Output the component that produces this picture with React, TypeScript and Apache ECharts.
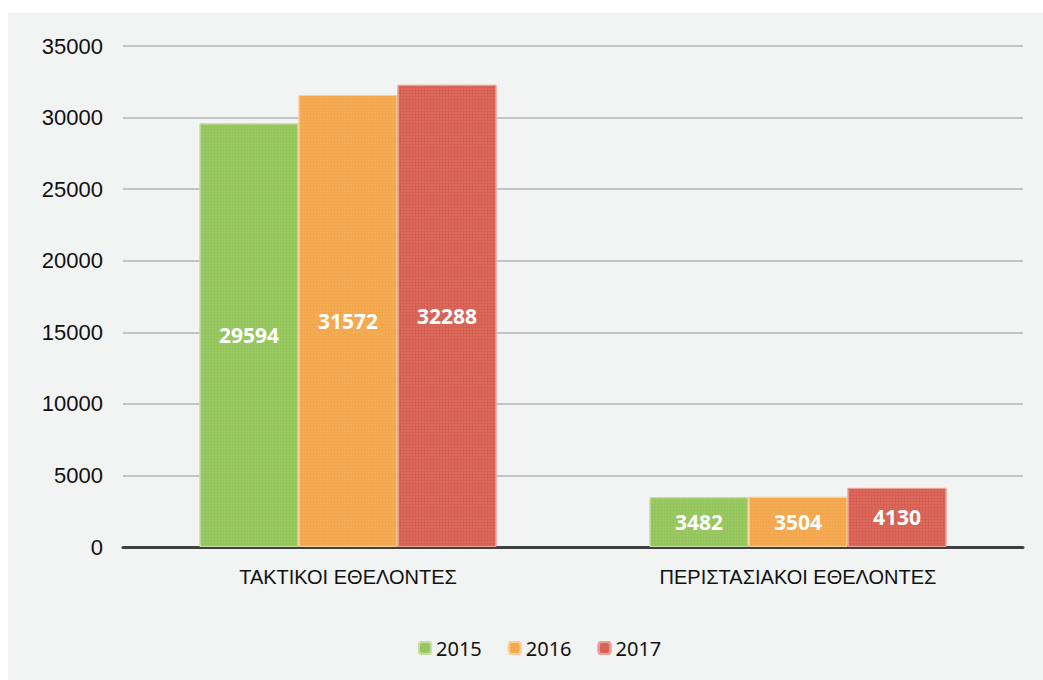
import React, { useEffect, useRef } from "react";
import * as echarts from "echarts";

const categories = ["ΤΑΚΤΙΚΟΙ ΕΘΕΛΟΝΤΕΣ", "ΠΕΡΙΣΤΑΣΙΑΚΟΙ ΕΘΕΛΟΝΤΕΣ"];
const seriesNames = ["2015", "2016", "2017"];
const values2015 = [29594, 3482];
const values2016 = [31572, 3504];
const values2017 = [32288, 4130];
const colors = ["#94c55a", "#f3a64a", "#d65f51"];
const borders = ["#c3e09c", "#f9cf99", "#eba198"];

export default function App() {
  const ref = useRef<HTMLDivElement>(null);
  useEffect(() => {
    if (!ref.current) return;
    const chart = echarts.init(ref.current, null, { renderer: "svg" });
    const data = [values2015, values2016, values2017];
    const decal = {
      symbol: "rect",
      symbolSize: 0.6,
      dashArrayX: [2, 1],
      dashArrayY: [2, 1],
      color: "rgba(255,255,255,0.22)",
    };
    chart.setOption({
      animation: false,
      backgroundColor: "#f2f3f3",
      grid: { left: 115, right: 20, top: 33, bottom: 133, containLabel: false },
      legend: {
        left: 405,
        top: 620,
        itemWidth: 12,
        itemHeight: 12,
        itemGap: 26,
        textStyle: { fontFamily: "Noto Sans", fontSize: 20, color: "#111" },
        data: seriesNames,
      },
      xAxis: {
        type: "category",
        data: categories,
        axisLine: { lineStyle: { color: "#404040", width: 3 } },
        axisTick: { show: false },
        axisLabel: {
          fontFamily: "Liberation Sans",
          fontSize: 20,
          color: "#111",
          margin: 20,
        },
      },
      yAxis: {
        type: "value",
        min: 0,
        max: 35000,
        interval: 5000,
        axisLine: { show: false },
        axisTick: { show: false },
        axisLabel: {
          fontFamily: "Liberation Sans",
          fontSize: 22,
          color: "#111",
          margin: 20,
          formatter: (v: number) => String(v),
        },
        splitLine: { lineStyle: { color: "#b5b5b5", width: 1.5 } },
      },
      series: seriesNames.map((name, i) => ({
        name,
        type: "bar",
        data: data[i],
        barWidth: 99,
        barGap: "0%",
        itemStyle: {
          color: colors[i],
          borderColor: borders[i],
          borderWidth: 1,
          decal,
        },
        label: {
          show: true,
          position: "inside",
          color: "#fff",
          fontFamily: "Open Sans",
          fontWeight: "bold",
          fontSize: 21,
        },
      })),
    });
    return () => chart.dispose();
  }, []);
  return (
    <div
      ref={ref}
      style={{ position: "absolute", left: 8, top: 13, width: 1035, height: 667 }}
    />
  );
}
